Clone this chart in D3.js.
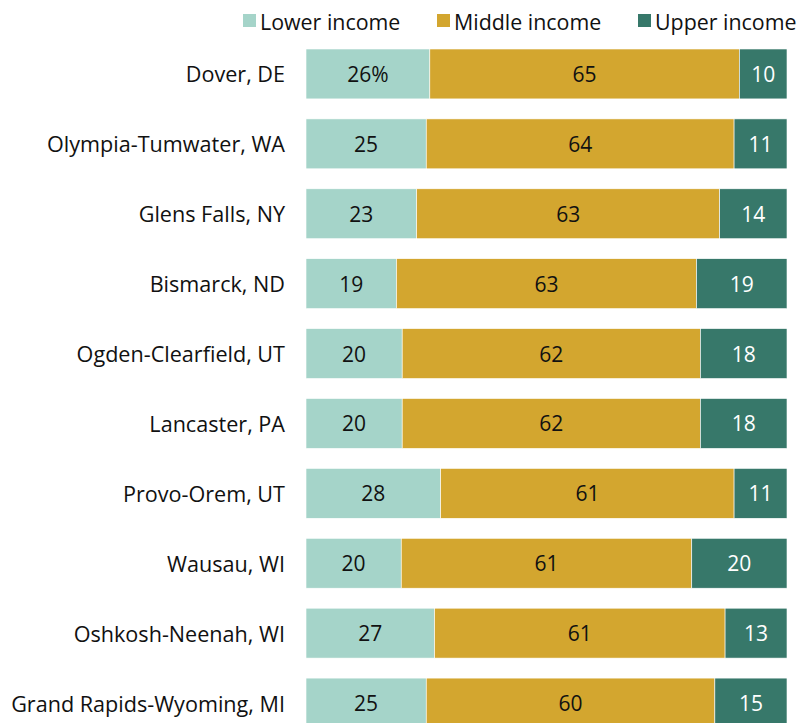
<!DOCTYPE html>
<html><head><meta charset="utf-8">
<script src="https://cdn.jsdelivr.net/npm/d3@7/dist/d3.min.js"></script>
<style>body{margin:0;background:#fff;} text{font-family:"Open Sans","Liberation Sans",Arial,sans-serif;}</style>
</head><body><svg id="c" width="807" height="723"></svg>
<script>
const categories = ["Dover, DE","Olympia-Tumwater, WA","Glens Falls, NY","Bismarck, ND","Ogden-Clearfield, UT","Lancaster, PA","Provo-Orem, UT","Wausau, WI","Oshkosh-Neenah, WI","Grand Rapids-Wyoming, MI"];
const lowerIncome = [26,25,23,19,20,20,28,20,27,25];
const middleIncome = [65,64,63,63,62,62,61,61,61,60];
const upperIncome = [10,11,14,19,18,18,11,20,13,15];
const seriesNames = ["Lower income","Middle income","Upper income"];
const colors = ["#a5d4c9","#d3a62f","#37786a"];
const textColors = ["#111","#111","#fff"];

(function(){
const svg = d3.select("#c");
const leftX = 306, rightX = 787;
const y = d3.scaleBand().domain(categories).range([39, 738]).paddingInner(0.286).paddingOuter(0.143);
const series = [lowerIncome, middleIncome, upperIncome];

categories.forEach((cat, i) => {
  const vals = series.map(s => s[i]);
  const total = d3.sum(vals);
  const x = d3.scaleLinear().domain([0, total]).range([leftX, rightX]);
  let acc = 0;
  vals.forEach((v, j) => {
    const x0 = x(acc), x1 = x(acc + v);
    svg.append("rect").attr("x", x0).attr("y", y(cat)).attr("width", x1 - x0).attr("height", y.bandwidth())
      .attr("fill", colors[j]).attr("stroke", "#fff").attr("stroke-width", 0.6);
    svg.append("text").attr("x", (x0 + x1) / 2).attr("y", y(cat) + y.bandwidth() / 2)
      .attr("text-anchor", "middle").attr("dominant-baseline", "central")
      .attr("font-size", 21).attr("fill", textColors[j])
      .text(i === 0 && j === 0 ? v + "%" : v);
    acc += v;
  });
  svg.append("text").attr("x", 285).attr("y", y(cat) + y.bandwidth() / 2)
    .attr("text-anchor", "end").attr("dominant-baseline", "central")
    .attr("font-size", 21.6).attr("fill", "#111").text(cat);
});

const legendX = [243, 437, 638];
seriesNames.forEach((n, j) => {
  svg.append("rect").attr("x", legendX[j]).attr("y", 14).attr("width", 13).attr("height", 13).attr("fill", colors[j]);
  svg.append("text").attr("x", legendX[j] + 17).attr("y", 21).attr("dominant-baseline", "central")
    .attr("font-size", 21.4).attr("fill", "#111").text(n);
});
})();
</script></body></html>
